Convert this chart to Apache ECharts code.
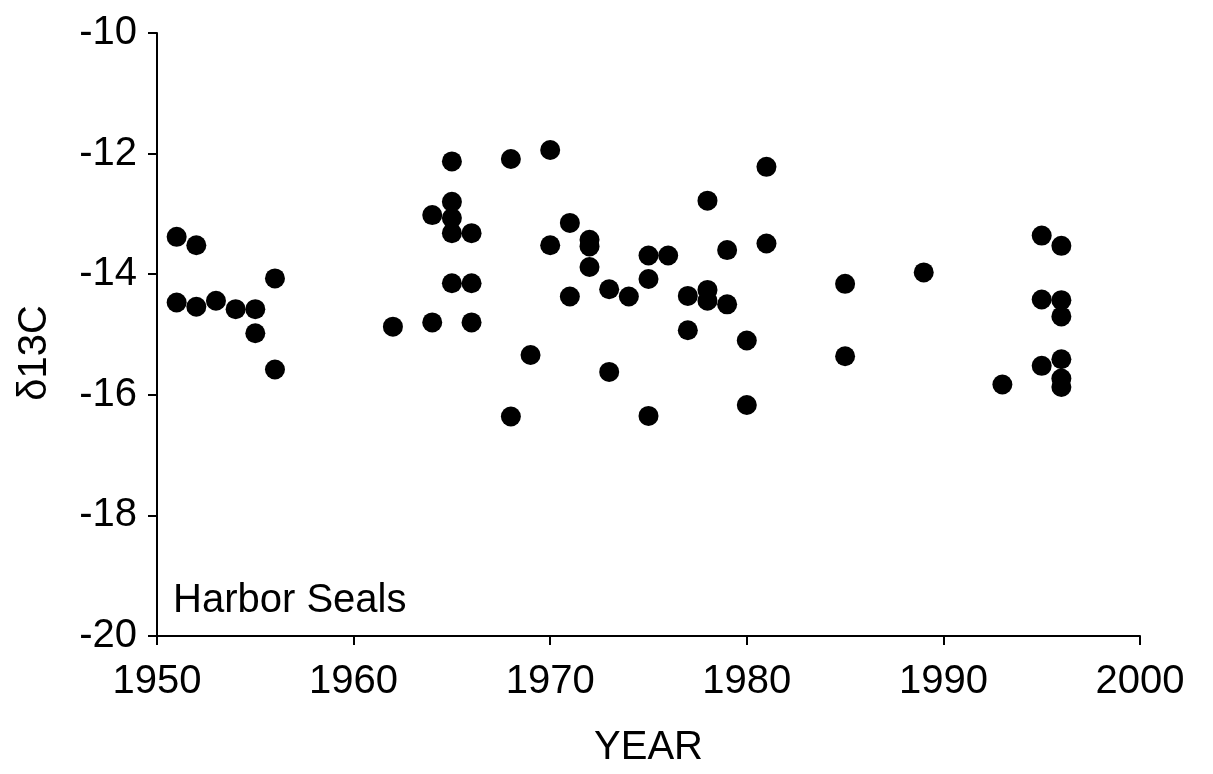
<!DOCTYPE html>
<html>
<head>
<meta charset="utf-8">
<script src="https://cdn.jsdelivr.net/npm/echarts@6/dist/echarts.min.js"></script>
<style>
html,body{margin:0;padding:0;background:#fff;}
#c{width:1213px;height:774px;}
</style>
</head>
<body>
<div id="c"></div>
<script>
// Data
const years = [
  1951, 1951, 1952, 1952, 1953, 1954, 1955, 1955, 1956, 1956,
  1962, 1964, 1964, 1965, 1965, 1965, 1965, 1965, 1966, 1966, 1966,
  1968, 1968, 1969, 1970, 1970, 1971, 1971, 1972, 1972, 1972,
  1973, 1973, 1974, 1975, 1975, 1975, 1976, 1977, 1977,
  1978, 1978, 1978, 1979, 1979, 1980, 1980, 1981, 1981,
  1985, 1985, 1989, 1993, 1995, 1995, 1995,
  1996, 1996, 1996, 1996, 1996, 1996
];
const d13C = [
  -13.38, -14.47, -13.52, -14.54, -14.44, -14.58, -14.58, -14.98, -14.07, -15.58,
  -14.87, -14.80, -13.02, -12.13, -12.80, -13.07, -13.32, -14.15, -13.32, -14.15, -14.80,
  -12.09, -16.36, -15.34, -11.94, -13.52, -13.15, -14.37, -13.43, -13.54, -13.88,
  -14.25, -15.62, -14.37, -13.69, -14.08, -16.35, -13.69, -14.36, -14.93,
  -12.78, -14.26, -14.44, -13.60, -14.50, -15.10, -16.17, -12.22, -13.49,
  -14.16, -15.36, -13.97, -15.83, -13.36, -14.42, -15.52,
  -13.53, -14.43, -14.70, -15.41, -15.73, -15.87
];
const xTicks = [1950, 1960, 1970, 1980, 1990, 2000];
const yTicks = [-20, -18, -16, -14, -12, -10];
const xName = 'YEAR';
const yName = 'δ13C';
const panelLabel = 'Harbor Seals';

const points = years.map((y, i) => [y, d13C[i]]);
const FONT = 'Liberation Sans, Arial, sans-serif';

const chart = echarts.init(document.getElementById('c'), null, {renderer: 'canvas'});
chart.setOption({
  backgroundColor: '#ffffff',
  animation: false,
  grid: {left: 157, right: 73, top: 33, bottom: 138, containLabel: false},
  xAxis: {
    type: 'value',
    min: xTicks[0], max: xTicks[xTicks.length - 1], interval: 10,
    name: xName, nameLocation: 'middle', nameGap: 92,
    nameTextStyle: {color: '#000', fontSize: 40, fontFamily: FONT},
    axisLine: {show: true, onZero: false, lineStyle: {color: '#000', width: 2}},
    axisTick: {show: true, inside: false, length: 9, lineStyle: {color: '#000', width: 2}},
    axisLabel: {color: '#000', fontSize: 40, fontFamily: FONT, margin: 26,
      formatter: v => String(v)},
    splitLine: {show: false}
  },
  yAxis: {
    type: 'value',
    min: yTicks[0], max: yTicks[yTicks.length - 1], interval: 2,
    axisLine: {show: true, onZero: false, lineStyle: {color: '#000', width: 2}},
    axisTick: {show: true, inside: false, length: 9, lineStyle: {color: '#000', width: 2}},
    axisLabel: {color: '#000', fontSize: 40, fontFamily: FONT, margin: 20,
      formatter: v => String(v)},
    splitLine: {show: false}
  },
  graphic: [
    {type: 'text', left: 173, top: 581,
      style: {text: panelLabel, fill: '#000', font: '40px ' + FONT}},
    {type: 'text', x: 35, y: 353, rotation: Math.PI / 2,
      style: {text: yName, fill: '#000', font: '40px ' + FONT, align: 'center', verticalAlign: 'middle'}}
  ],
  series: [{
    type: 'scatter',
    data: points,
    symbol: 'circle',
    symbolSize: 20,
    itemStyle: {color: '#000', opacity: 1},
    emphasis: {disabled: true}
  }]
});
</script>
</body>
</html>
